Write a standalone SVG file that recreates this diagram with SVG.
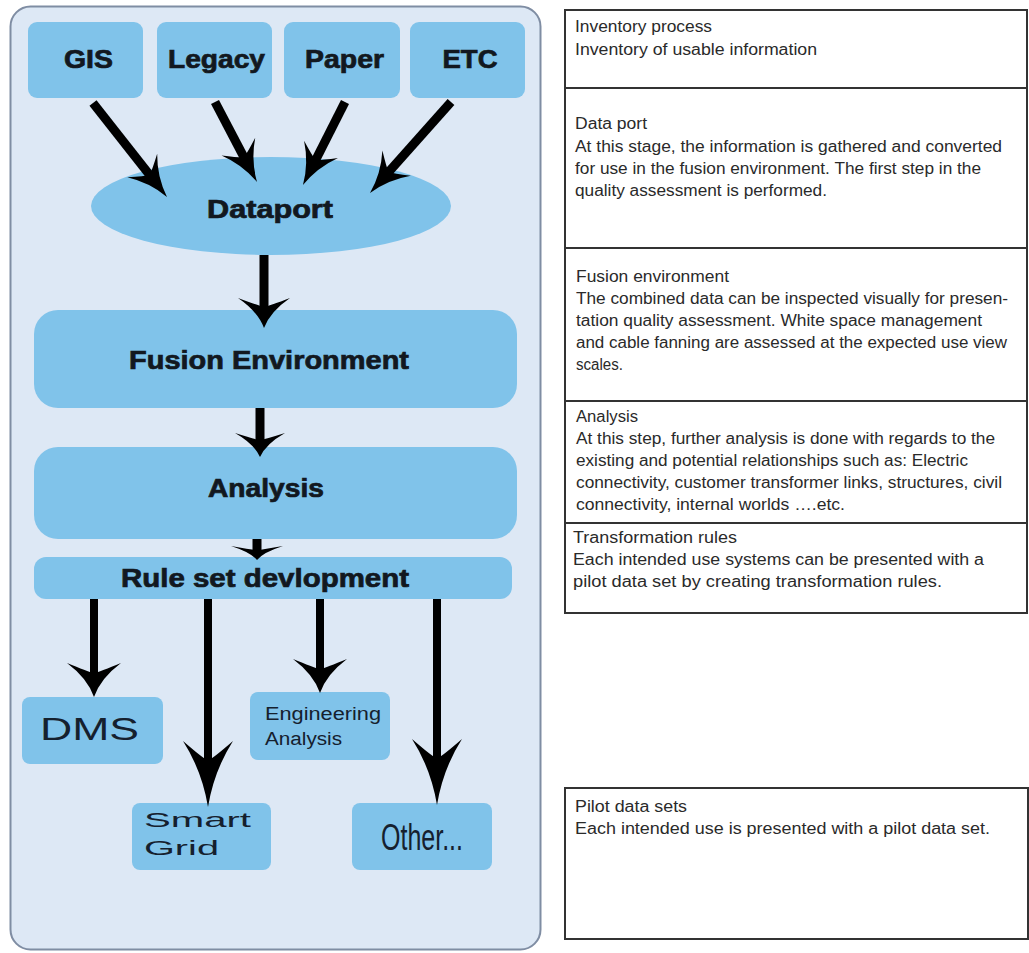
<svg xmlns="http://www.w3.org/2000/svg" width="1029" height="953" viewBox="0 0 1029 953">
<style>
.node{fill:#80C3EA;}
.lbl{font-family:"Liberation Sans",Arial,sans-serif;font-weight:bold;font-size:25px;fill:#121820;text-anchor:middle;stroke:#121820;stroke-width:0.7;}
.sub{font-family:"Liberation Sans",Arial,sans-serif;fill:#15202e;}
.con{stroke:#000;stroke-width:9;fill:none;}
.con2{stroke:#000;stroke-width:8;fill:none;}
.cell{fill:#fff;stroke:#333;stroke-width:2;}
.desc{font-family:"Liberation Sans",Arial,sans-serif;font-size:16px;fill:#2a2a2a;}
</style>
<defs>
<marker id="m1" markerUnits="userSpaceOnUse" orient="auto" refX="0" refY="0" markerWidth="80" markerHeight="80" overflow="visible"><path d="M20,0 Q-2,-4.6 -20,-19 Q-10,-4.6 -8,0 Q-10,4.6 -20,19 Q-2,4.6 20,0Z" fill="#000"/></marker>
<marker id="m2" markerUnits="userSpaceOnUse" orient="auto" refX="0" refY="0" markerWidth="80" markerHeight="80" overflow="visible"><path d="M15,0 Q-1.5,-6.2 -15,-26 Q-7.5,-6.2 -6,0 Q-7.5,6.2 -15,26 Q-1.5,6.2 15,0Z" fill="#000"/></marker>
<marker id="m3" markerUnits="userSpaceOnUse" orient="auto" refX="0" refY="0" markerWidth="80" markerHeight="80" overflow="visible"><path d="M12,0 Q-1.2,-6 -12,-25 Q-6,-6 -4.8,0 Q-6,6 -12,25 Q-1.2,6 12,0Z" fill="#000"/></marker>
<marker id="m4" markerUnits="userSpaceOnUse" orient="auto" refX="0" refY="0" markerWidth="80" markerHeight="80" overflow="visible"><path d="M7,0 Q-0.7,-6.2 -7,-26 Q-3.5,-6.2 -2.8,0 Q-3.5,6.2 -7,26 Q-0.7,6.2 7,0Z" fill="#000"/></marker>
<marker id="m5" markerUnits="userSpaceOnUse" orient="auto" refX="0" refY="0" markerWidth="80" markerHeight="80" overflow="visible"><path d="M17,0 Q-1.7,-6.5 -17,-27 Q-8.5,-6.5 -6.8,0 Q-8.5,6.5 -17,27 Q-1.7,6.5 17,0Z" fill="#000"/></marker>
<marker id="m6" markerUnits="userSpaceOnUse" orient="auto" refX="0" refY="0" markerWidth="120" markerHeight="120" overflow="visible"><path d="M33,0 Q-3.3,-6 -33,-25 Q-16.5,-6 -13.2,0 Q-16.5,6 -33,25 Q-3.3,6 33,0Z" fill="#000"/></marker>
</defs>
<rect width="1029" height="953" fill="#fff"/>
<g id="panel"><rect x="10.5" y="6.5" width="530" height="943" rx="20" fill="#DDE8F5" stroke="#7F8DA3" stroke-width="2"/></g>

<g id="gis"><rect class="node" x="28" y="22" width="115" height="76" rx="9"/><text class="lbl" x="88.5" y="68" textLength="49" lengthAdjust="spacingAndGlyphs">GIS</text></g>
<g id="legacy"><rect class="node" x="157" y="22" width="115" height="76" rx="9"/><text class="lbl" x="216.5" y="68" textLength="97" lengthAdjust="spacingAndGlyphs">Legacy</text></g>
<g id="paper"><rect class="node" x="284" y="22" width="116" height="76" rx="9"/><text class="lbl" x="344.5" y="68" textLength="79" lengthAdjust="spacingAndGlyphs">Paper</text></g>
<g id="etc"><rect class="node" x="410" y="22" width="115" height="76" rx="9"/><text class="lbl" x="470" y="68" textLength="55" lengthAdjust="spacingAndGlyphs">ETC</text></g>
<g id="dataport"><ellipse class="node" cx="271" cy="206" rx="180" ry="49"/><text class="lbl" x="270" y="218" textLength="126" lengthAdjust="spacingAndGlyphs">Dataport</text></g>
<g id="fusion"><rect class="node" x="34" y="310" width="483" height="98" rx="24"/><text class="lbl" x="269" y="369" textLength="280" lengthAdjust="spacingAndGlyphs">Fusion Environment</text></g>
<g id="analysis"><rect class="node" x="34" y="447" width="483" height="92" rx="24"/><text class="lbl" x="266" y="497" textLength="116" lengthAdjust="spacingAndGlyphs">Analysis</text></g>
<g id="ruleset"><rect class="node" x="34" y="557" width="478" height="42" rx="12"/><text class="lbl" x="265" y="587" textLength="288" lengthAdjust="spacingAndGlyphs">Rule set devlopment</text></g>
<g id="dms"><rect class="node" x="22" y="697" width="141" height="67" rx="8"/><text class="sub" x="40" y="740" font-size="31" textLength="99" lengthAdjust="spacingAndGlyphs">DMS</text></g>
<g id="engineering"><rect class="node" x="250" y="692" width="140" height="68" rx="8"/><text class="sub" x="265" y="720" font-size="18" textLength="116" lengthAdjust="spacingAndGlyphs">Engineering</text><text class="sub" x="265" y="745" font-size="18" textLength="77" lengthAdjust="spacingAndGlyphs">Analysis</text></g>
<g id="smartgrid"><rect class="node" x="132" y="803" width="139" height="67" rx="8"/><text class="sub" x="144" y="827" font-size="21" font-family="'DejaVu Sans',sans-serif" textLength="107" lengthAdjust="spacingAndGlyphs">Smart</text><text class="sub" x="144" y="855" font-size="21" font-family="'DejaVu Sans',sans-serif" textLength="75" lengthAdjust="spacingAndGlyphs">Grid</text></g>
<g id="other"><rect class="node" x="352" y="803" width="140" height="67" rx="8"/><text class="sub" x="381" y="850" font-size="36" textLength="82" lengthAdjust="spacingAndGlyphs">Other...</text></g>

<g id="connectors">
<line class="con" x1="93" y1="103" x2="154.6" y2="181.3" marker-end="url(#m1)"/>
<line class="con" x1="215" y1="102" x2="247.7" y2="164.3" marker-end="url(#m1)"/>
<line class="con" x1="345" y1="102" x2="312" y2="167.2" marker-end="url(#m1)"/>
<line class="con" x1="451" y1="102" x2="383.3" y2="178.1" marker-end="url(#m1)"/>
<line class="con" x1="264" y1="255" x2="264" y2="313" marker-end="url(#m2)"/>
<line class="con" x1="260" y1="408" x2="260" y2="445" marker-end="url(#m3)"/>
<line class="con" x1="257" y1="539" x2="257" y2="553" marker-end="url(#m4)"/>
<line class="con2" x1="94" y1="599" x2="94" y2="680" marker-end="url(#m5)"/>
<line class="con2" x1="208" y1="599" x2="208" y2="774" marker-end="url(#m6)"/>
<line class="con2" x1="320" y1="599" x2="320" y2="676" marker-end="url(#m5)"/>
<line class="con2" x1="437" y1="599" x2="437" y2="772" marker-end="url(#m6)"/>
</g>

<g id="row-inventory"><rect class="cell" x="565" y="10" width="462" height="78"/>
<text class="desc" x="575" y="32" textLength="137" lengthAdjust="spacingAndGlyphs">Inventory process</text>
<text class="desc" x="575" y="55" textLength="242" lengthAdjust="spacingAndGlyphs">Inventory of usable information</text></g>
<g id="row-dataport"><rect class="cell" x="565" y="88" width="462" height="160"/>
<text class="desc" x="575" y="129" textLength="72" lengthAdjust="spacingAndGlyphs">Data port</text>
<text class="desc" x="575" y="152" textLength="427" lengthAdjust="spacingAndGlyphs">At this stage, the information is gathered and converted</text>
<text class="desc" x="575" y="174" textLength="406" lengthAdjust="spacingAndGlyphs">for use in the fusion environment. The first step in the</text>
<text class="desc" x="575" y="196" textLength="252" lengthAdjust="spacingAndGlyphs">quality assessment is performed.</text></g>
<g id="row-fusion"><rect class="cell" x="565" y="248" width="462" height="153"/>
<text class="desc" x="576" y="282" textLength="153" lengthAdjust="spacingAndGlyphs">Fusion environment</text>
<text class="desc" x="576" y="304" textLength="432" lengthAdjust="spacingAndGlyphs">The combined data can be inspected visually for presen-</text>
<text class="desc" x="576" y="326" textLength="406" lengthAdjust="spacingAndGlyphs">tation quality assessment.  White space management</text>
<text class="desc" x="576" y="348" textLength="431" lengthAdjust="spacingAndGlyphs">and cable fanning are assessed at the expected use view</text>
<text class="desc" x="576" y="370" textLength="47" lengthAdjust="spacingAndGlyphs">scales.</text></g>
<g id="row-analysis"><rect class="cell" x="565" y="401" width="462" height="122"/>
<text class="desc" x="576" y="422" textLength="62" lengthAdjust="spacingAndGlyphs">Analysis</text>
<text class="desc" x="576" y="444" textLength="419" lengthAdjust="spacingAndGlyphs">At this step, further analysis is done with regards to the</text>
<text class="desc" x="576" y="466" textLength="392" lengthAdjust="spacingAndGlyphs">existing and potential relationships such as: Electric</text>
<text class="desc" x="576" y="488" textLength="426" lengthAdjust="spacingAndGlyphs">connectivity, customer transformer links, structures, civil</text>
<text class="desc" x="576" y="510" textLength="269" lengthAdjust="spacingAndGlyphs">connectivity, internal worlds ….etc.</text></g>
<g id="row-transformation"><rect class="cell" x="565" y="523" width="462" height="90"/>
<text class="desc" x="573" y="543" textLength="164" lengthAdjust="spacingAndGlyphs">Transformation rules</text>
<text class="desc" x="573" y="565" textLength="411" lengthAdjust="spacingAndGlyphs">Each intended use systems can be presented with a</text>
<text class="desc" x="573" y="587" textLength="369" lengthAdjust="spacingAndGlyphs">pilot data set by creating transformation rules.</text></g>
<g id="row-pilot"><rect class="cell" x="565" y="788" width="463" height="151"/>
<text class="desc" x="575" y="812" textLength="112" lengthAdjust="spacingAndGlyphs">Pilot data sets</text>
<text class="desc" x="575" y="834" textLength="415" lengthAdjust="spacingAndGlyphs">Each intended use is presented with a pilot data set.</text></g>
</svg>
